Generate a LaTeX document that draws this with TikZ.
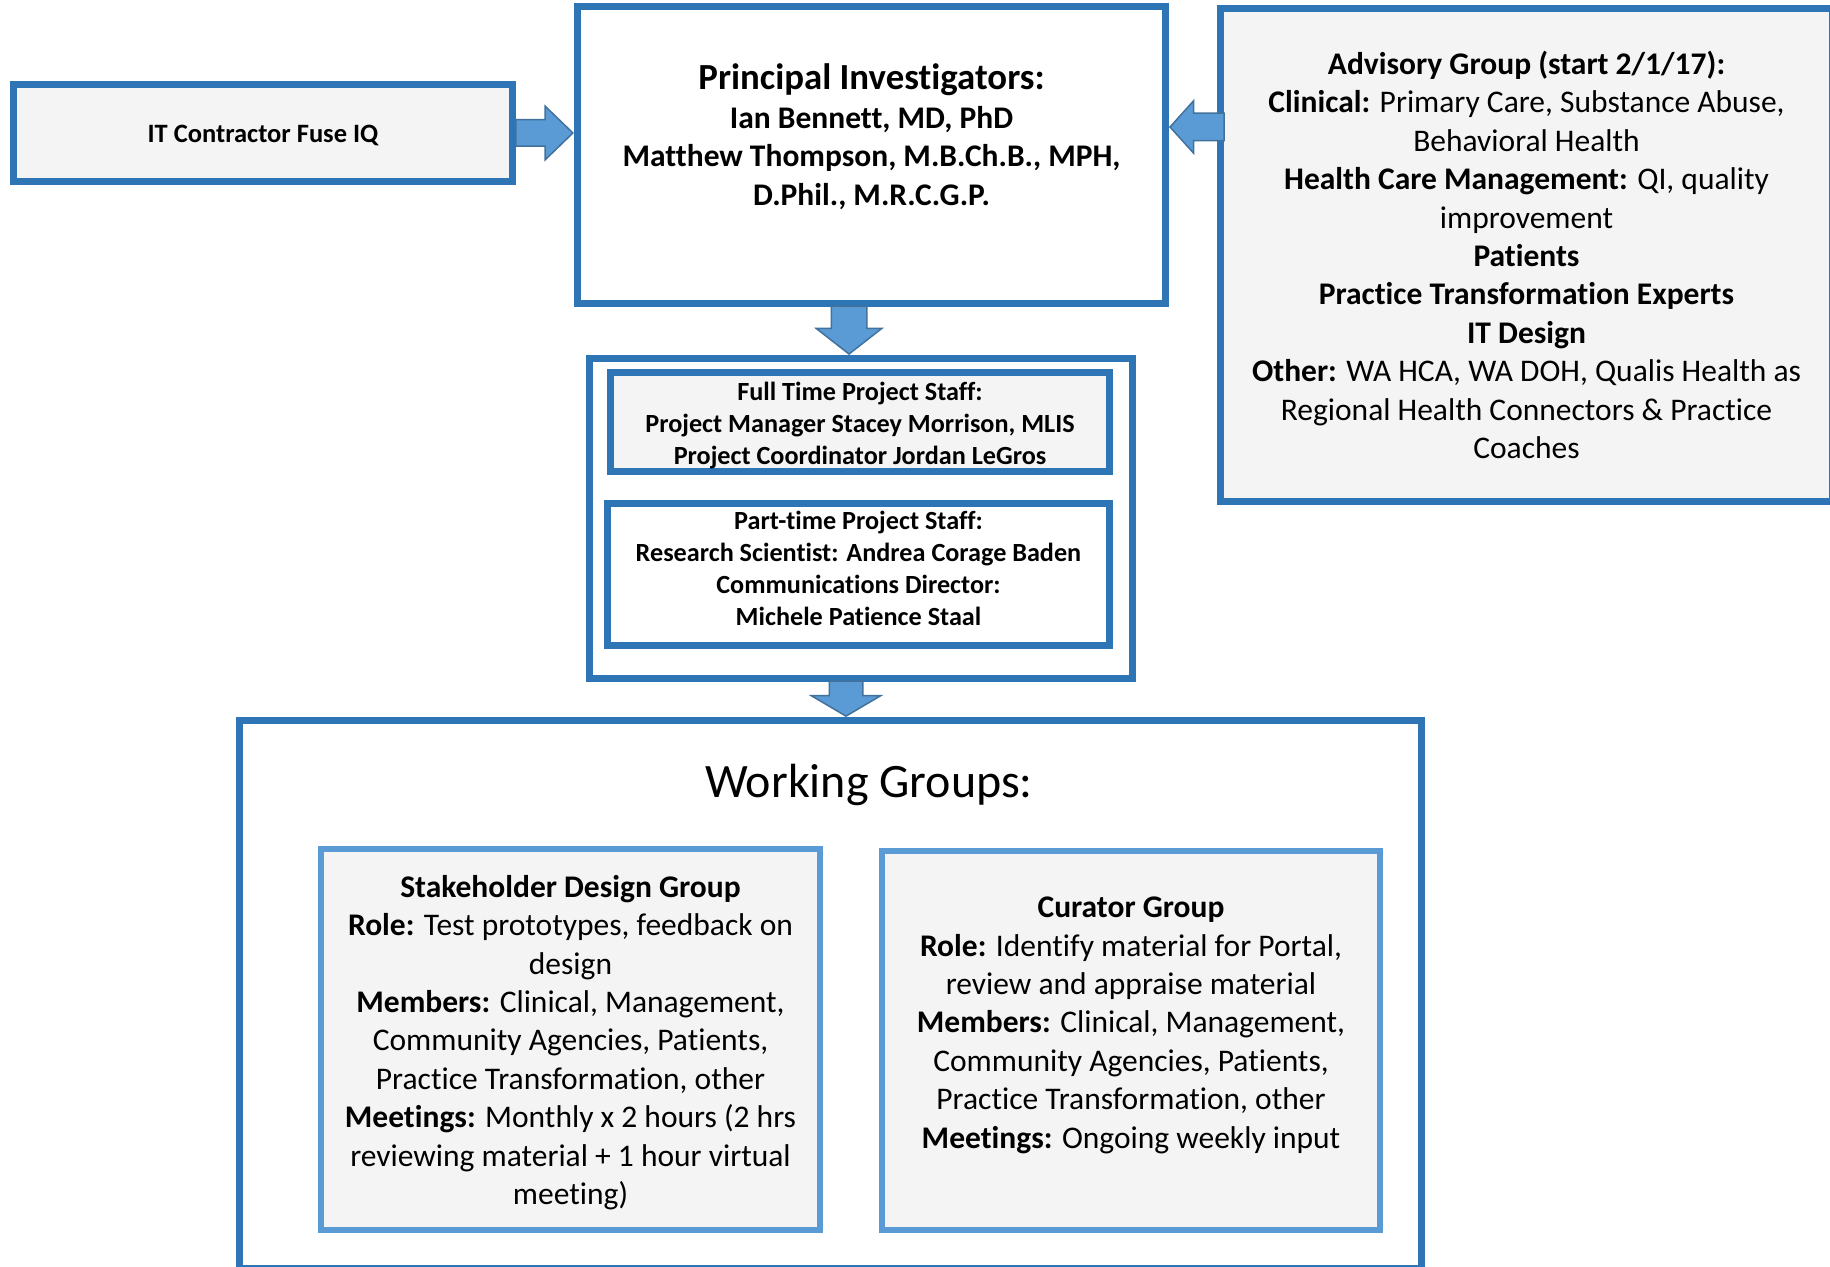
\documentclass[tikz,border=0pt]{standalone}
\usepackage{fontspec}
\setmainfont{Carlito}[Ligatures={TeX,NoCommon}]
\usetikzlibrary{shapes.arrows}
\definecolor{boxblue}{RGB}{46,117,182}
\definecolor{lightblue}{RGB}{91,155,213}
\definecolor{arrowfill}{RGB}{91,155,213}
\definecolor{arrowline}{RGB}{65,113,156}
\definecolor{boxgrey}{RGB}{244,244,244}

\begin{document}
\begin{tikzpicture}[x=0.5pt,y=-0.5pt,
  dark box/.style={rectangle,draw=boxblue,line width=3.5pt,inner sep=0pt,align=center},
  light box/.style={rectangle,draw=lightblue,line width=3pt,fill=boxgrey,inner sep=0pt,
    align=center,font=\fontsize{15.75}{19.2}\selectfont},
  block arrow/.style={single arrow,draw=arrowline,fill=arrowfill,line width=0.75pt,
    inner sep=0pt,single arrow head indent=0pt,anchor=tip}]

  \useasboundingbox (0,0) rectangle (1830,1267);
  \clip (0,0) rectangle (1830,1267);

  \node[dark box,minimum width=294pt,minimum height=148.5pt,
    font=\bfseries\fontsize{15.75}{19.2}\selectfont] (Investigators) at (871.5,155)
    {{\fontsize{18.4}{22}\selectfont Principal Investigators:}\\Ian Bennett, MD, PhD\\
     Matthew Thompson, M.B.Ch.B., MPH,\\D.Phil., M.R.C.G.P.\\\rule[-1.3pt]{0pt}{1.3pt}};
  \node[dark box,fill=boxgrey,minimum width=249.5pt,minimum height=48.5pt,
    font=\bfseries\fontsize{13.25}{16.2}\selectfont] (Contractor)
    [node distance=304.25pt,left of=Investigators,yshift=11pt]
    {\rule{0pt}{11pt}IT Contractor Fuse IQ};
  \node[dark box,fill=boxgrey,minimum width=306pt,minimum height=246.5pt,
    font=\fontsize{15.75}{19.2}\selectfont] (Advisory)
    [node distance=327.5pt,right of=Investigators,yshift=-50pt]
    {\textbf{Advisory Group (start 2/1/17):}\\
     \textbf{Clinical:} Primary Care, Substance Abuse,\\
     Behavioral Health\\
     \textbf{Health Care Management:} QI, quality\\
     improvement\\
     \textbf{Patients}\\
     \textbf{Practice Transformation Experts}\\
     \textbf{IT Design}\\
     \textbf{Other:} WA HCA, WA DOH, Qualis Health as\\
     Regional Health Connectors \& Practice\\
     Coaches};

  \node[dark box,minimum width=271.5pt,minimum height=160pt] (Staff)
    [node distance=181.75pt,below of=Investigators,xshift=-5.25pt] {};
  \node[dark box,fill=boxgrey,minimum width=249.5pt,minimum height=49.5pt,
    font=\bfseries\fontsize{13.1}{16}\selectfont] (FullTime)
    [node distance=48.25pt,above of=Staff,xshift=-0.5pt]
    {\rule{0pt}{13pt}Full Time Project Staff:\\Project Manager Stacey Morrison, MLIS\\
     Project Coordinator Jordan LeGros};
  \node[dark box,fill=white,minimum width=251pt,minimum height=71pt,
    font=\bfseries\fontsize{13.1}{16}\selectfont] (PartTime)
    [node distance=28pt,below of=Staff,xshift=-1.25pt]
    {Part-time Project Staff:\\Research Scientist: Andrea Corage Baden\\
     Communications Director:\\Michele Patience Staal\rule[-6pt]{0pt}{6pt}};

  \node[dark box,minimum width=591pt,minimum height=274pt] (Working)
    [node distance=238pt,below of=Staff,xshift=-15.25pt] {};
  \node[font=\fontsize{24}{29}\selectfont,anchor=base,inner sep=0pt] (WorkingTitle)
    at ([xshift=19.25pt,yshift=-40pt]Working.north) {Working Groups:};
  \node[light box,minimum width=249.5pt,minimum height=190.5pt] (Stakeholder)
    [node distance=22.5pt,below of=Working,xshift=-130pt]
    {\rule{0pt}{14pt}\textbf{Stakeholder Design Group}\\
     \textbf{Role:} Test prototypes, feedback on\\
     design\\
     \textbf{Members:} Clinical, Management,\\
     Community Agencies, Patients,\\
     Practice Transformation, other\\
     \textbf{Meetings:} Monthly x 2 hours (2 hrs\\
     reviewing material + 1 hour virtual\\
     meeting)};
  \node[light box,minimum width=249pt,minimum height=189.5pt] (Curator)
    [node distance=23pt,below of=Working,xshift=150.25pt]
    {\textbf{Curator Group}\\
     \textbf{Role:} Identify material for Portal,\\
     review and appraise material\\
     \textbf{Members:} Clinical, Management,\\
     Community Agencies, Patients,\\
     Practice Transformation, other\\
     \textbf{Meetings:} Ongoing weekly input\\[-1.2pt]\mbox{}};

  \node[block arrow,minimum height=28.5pt,minimum width=26pt,single arrow head extend=6.75pt,
    single arrow tip angle=88] (ContractorArrow) at (Investigators.west |- Contractor.east)
    {\rule{0pt}{12.5pt}};
  \node[block arrow,rotate=180,minimum height=27pt,minimum width=25.5pt,
    single arrow head extend=6.25pt,single arrow tip angle=96] (AdvisoryArrow)
    at ([yshift=14pt]Investigators.east) {\rule{0pt}{13pt}};
  \node[block arrow,rotate=-90,minimum height=24pt,minimum width=32pt,
    single arrow head extend=7.5pt,single arrow tip angle=104] (StaffArrow)
    at ([xshift=-6pt]Staff.north) {\rule{0pt}{17pt}};
  \node[block arrow,rotate=-90,minimum height=17.5pt,minimum width=34pt,
    single arrow head extend=9pt,single arrow tip angle=119] (WorkingArrow)
    at ([xshift=7.75pt]Working.north) {\rule{0pt}{16pt}};
\end{tikzpicture}
\end{document}
